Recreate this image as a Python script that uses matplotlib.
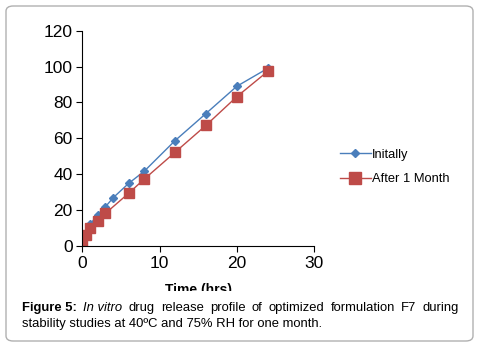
import matplotlib.pyplot as plt
from matplotlib.patches import FancyBboxPatch, Rectangle

plt.rcParams['font.family'] = ['Liberation Sans', 'DejaVu Sans']

time_initial = [0, 0.5, 1, 2, 3, 4, 6, 8, 12, 16, 20, 24]
initially = [0, 6, 12.1, 17.3, 21.9, 26.9, 34.9, 41.6, 58.7, 73.8, 89.0, 99.0]

time_month = [0, 0.5, 1, 2, 3, 6, 8, 12, 16, 20, 24]
after_month = [1.5, 6.3, 9.8, 13.9, 18.2, 29.4, 37.2, 52.2, 67.2, 83.2, 97.3]

W, H = 482, 347
fig = plt.figure(figsize=(W / 100, H / 100), dpi=100)

# rounded frame around the whole figure
frame = FancyBboxPatch((6 / W, 6 / H), 467 / W, 335 / H,
                       boxstyle='round,pad=0,rounding_size=0.015',
                       transform=fig.transFigure, facecolor='none',
                       edgecolor='#b0b0b0', linewidth=1.0, zorder=7)
fig.patches.append(frame)

ax = fig.add_axes([82.3 / W, 1 - 246 / H, (314 - 82.3) / W, (246 - 30.7) / H])
ax.plot(time_initial, initially, color='#4A7EBB', marker='D', markersize=4,
        linewidth=1.0, label='Initally')
ax.plot(time_month, after_month, color='#BE4B48', marker='s', markersize=7.5,
        linewidth=1.0, label='After 1 Month')

ax.set_xlim(0, 30)
ax.set_ylim(0, 120)
ax.set_xticks([0, 10, 20, 30])
ax.set_yticks(range(0, 121, 20))
ax.spines['top'].set_visible(False)
ax.spines['right'].set_visible(False)
ax.tick_params(direction='out', length=4, labelsize=12.5, pad=3)
ax.set_xlabel('Time (hrs)', fontsize=10, fontweight='bold', labelpad=9)

ax.legend(loc='center left', bbox_to_anchor=(328 / W, 1 - 167 / H),
          bbox_transform=fig.transFigure, frameon=False, fontsize=9.3,
          handlelength=2.4, handletextpad=0.1, labelspacing=1.0,
          markerscale=1.1)

# white band hiding lower part of x label under the caption
fig.patches.append(Rectangle((10 / W, 10 / H), 460 / W, (H - 291 - 10) / H,
                             transform=fig.transFigure, facecolor='white',
                             edgecolor='none', zorder=5))

# caption, line 1 justified
fs = 9.4
y1 = 1 - 308 / H
y2 = 1 - 324 / H
parts = [('Figure 5:', 'bold', 'normal'), ('In vitro', 'normal', 'italic'),
         ('drug', 'normal', 'normal'), ('release', 'normal', 'normal'),
         ('profile', 'normal', 'normal'), ('of', 'normal', 'normal'),
         ('optimized', 'normal', 'normal'), ('formulation', 'normal', 'normal'),
         ('F7', 'normal', 'normal'), ('during', 'normal', 'normal')]
renderer = fig.canvas.get_renderer()
texts = []
total = 0
for s, w, st in parts:
    t = fig.text(0, y1, s, fontsize=fs, fontweight=w, style=st, va='center',
                 zorder=6)
    wpx = t.get_window_extent(renderer).width
    texts.append((t, wpx))
    total += wpx
x0, x1 = 22, 459
gap = (x1 - x0 - total) / (len(parts) - 1)
x = x0
for t, wpx in texts:
    t.set_x(x / W)
    x += wpx + gap

fig.text(x0 / W, y2, 'stability studies at 40ºC and 75% RH for one month.',
         fontsize=fs, va='center', zorder=6)

fig.savefig('out.png', dpi=100)
